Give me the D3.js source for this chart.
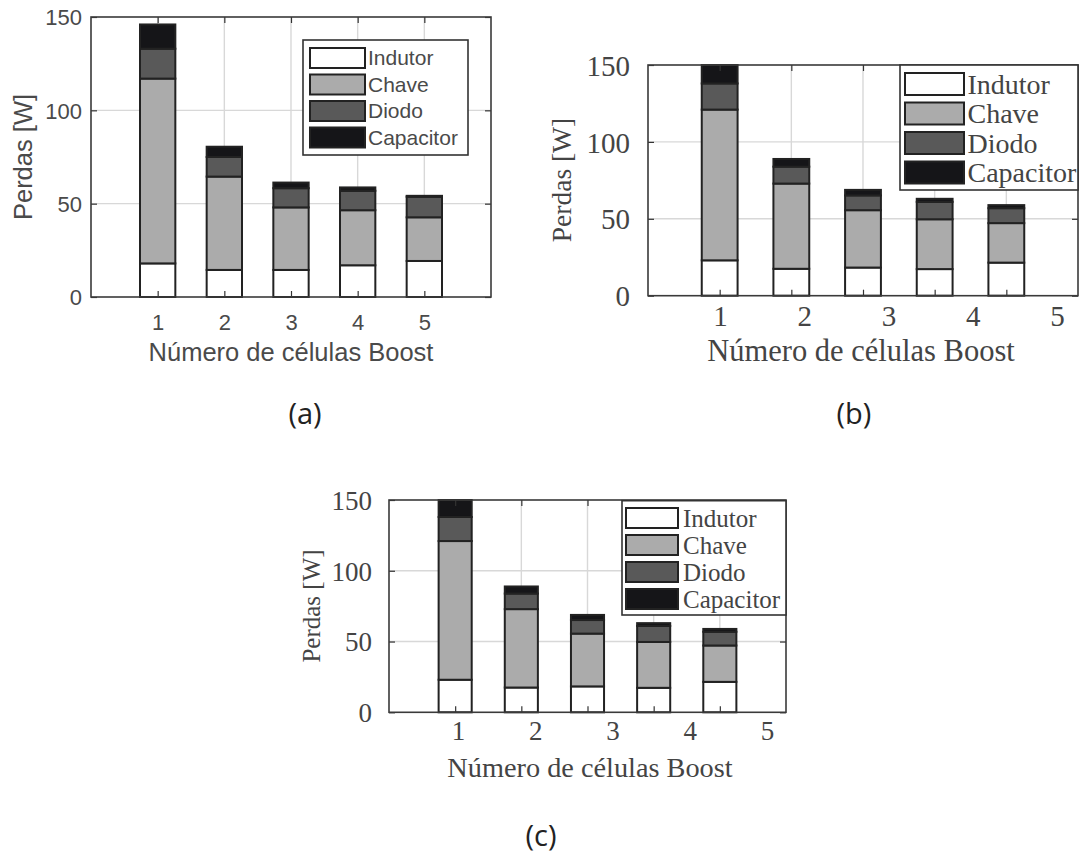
<!DOCTYPE html>
<html>
<head>
<meta charset="utf-8">
<script src="https://cdn.jsdelivr.net/npm/d3@7"></script>
<style>
  html, body { margin: 0; padding: 0; background: #ffffff; }
  svg { display: block; }
</style>
</head>
<body>
<svg id="chart" width="1083" height="865"></svg>
<script>
// ---------------- DATA ----------------
const categories = [1, 2, 3, 4, 5];
const seriesNames = ["Indutor", "Chave", "Diodo", "Capacitor"];
const yTicks = [0, 50, 100, 150];
const xTickLabels = ["1", "2", "3", "4", "5"];
const yAxisTitle = "Perdas [W]";
const xAxisTitle = "Número de células Boost";
const captions = ["(a)", "(b)", "(c)"];

// panel (a)
const indutorA   = [18, 14.5, 14.5, 17, 19.3];
const chaveA     = [99, 50, 33.5, 29.5, 23.4];
const diodoA     = [16, 10.5, 10.3, 10.4, 11];
const capacitorA = [13, 5.5, 3, 1.8, 0.5];

// panels (b) and (c) (same figure)
const indutorBC   = [23, 17.5, 18.3, 17.3, 21.5];
const chaveBC     = [98, 55.4, 37.3, 32.4, 25.7];
const diodoBC     = [17, 11, 9.6, 11.3, 9.7];
const capacitorBC = [12, 5, 3.6, 2, 2];

// ---------------- STYLE ----------------
const fills = { Indutor: "#ffffff", Chave: "#ababab", Diodo: "#595959", Capacitor: "#151518" };

const svg = d3.select("#chart");
svg.append("rect").attr("width", 1083).attr("height", 865).attr("fill", "#fff");

function drawPanel(cfg) {
  const g = svg.append("g");
  const x = d3.scaleLinear().domain([0, 6]).range([cfg.left, cfg.right]);
  const y = d3.scaleLinear().domain([0, 150]).range([cfg.bottom, cfg.top]);
  const xl = d3.scaleLinear().domain([1, 5]).range(cfg.labelRange);

  // grid
  g.append("g").selectAll("line").data(yTicks.slice(1, -1)).join("line")
    .attr("x1", cfg.left).attr("x2", cfg.right)
    .attr("y1", d => y(d)).attr("y2", d => y(d))
    .attr("stroke", "#d8d8d8").attr("stroke-width", 1.4);
  g.append("g").selectAll("line").data(categories).join("line")
    .attr("x1", d => x(d)).attr("x2", d => x(d))
    .attr("y1", cfg.top).attr("y2", cfg.bottom)
    .attr("stroke", "#d8d8d8").attr("stroke-width", 1.4);

  // stacked bars
  const table = categories.map((c, i) => {
    const row = { cat: c };
    seriesNames.forEach((s, k) => row[s] = cfg.values[k][i]);
    return row;
  });
  const stacked = d3.stack().keys(seriesNames)(table);
  const bw = cfg.barWidth;
  g.append("g").selectAll("g").data(stacked).join("g")
    .attr("fill", d => fills[d.key])
    .selectAll("rect").data(d => d).join("rect")
    .attr("x", d => x(d.data.cat - bw / 2))
    .attr("width", x(bw) - x(0))
    .attr("y", d => y(Math.min(d[1], 150)))
    .attr("height", d => y(d[0]) - y(Math.min(d[1], 150)))
    .attr("stroke", "#222").attr("stroke-width", 2);

  // inward tick marks on all sides
  const tickStyle = sel => {
    sel.select(".domain").remove();
    sel.selectAll(".tick line").attr("stroke", "#333").attr("stroke-width", 1.2);
  };
  g.append("g").attr("transform", `translate(0,${cfg.bottom})`)
    .call(d3.axisBottom(x).tickValues(categories).tickSizeInner(-6).tickSizeOuter(0).tickFormat(""))
    .call(tickStyle);
  g.append("g").attr("transform", `translate(0,${cfg.top})`)
    .call(d3.axisTop(x).tickValues(categories).tickSizeInner(-6).tickSizeOuter(0).tickFormat(""))
    .call(tickStyle);
  g.append("g").attr("transform", `translate(${cfg.right},0)`)
    .call(d3.axisRight(y).tickValues(yTicks).tickSizeInner(-6).tickSizeOuter(0).tickFormat(""))
    .call(tickStyle);

  // y axis with labels
  const ya = g.append("g").attr("transform", `translate(${cfg.left},0)`)
    .call(d3.axisLeft(y).tickValues(yTicks).tickSizeInner(-6).tickSizeOuter(0).tickPadding(cfg.yPad));
  tickStyle(ya);
  ya.selectAll(".tick text").attr("font-family", cfg.font).attr("font-size", cfg.tickSize)
    .attr("fill", cfg.textColor).attr("dy", "0.35em");

  // x tick labels (positioned by their own scale, as in the picture)
  const xa = g.append("g").attr("transform", `translate(0,${cfg.bottom})`)
    .call(d3.axisBottom(xl).tickValues(categories).tickSize(0).tickFormat((d, i) => xTickLabels[i]));
  xa.select(".domain").remove();
  xa.selectAll(".tick text").attr("font-family", cfg.font).attr("font-size", cfg.tickSize)
    .attr("fill", cfg.textColor).attr("dy", null).attr("y", cfg.xLabelBase);

  // frame
  g.append("rect").attr("x", cfg.left).attr("y", cfg.top)
    .attr("width", cfg.right - cfg.left).attr("height", cfg.bottom - cfg.top)
    .attr("fill", "none").attr("stroke", "#3a3a3a").attr("stroke-width", 1.6);

  // axis titles
  g.append("text").attr("x", cfg.xTitle[0]).attr("y", cfg.xTitle[1])
    .attr("text-anchor", "middle").attr("font-family", cfg.font)
    .attr("font-size", cfg.xTitleSize).attr("fill", cfg.textColor).text(xAxisTitle);
  g.append("text").attr("transform", `translate(${cfg.yTitle[0]},${cfg.yTitle[1]}) rotate(-90)`)
    .attr("text-anchor", "middle").attr("dy", "0.35em").attr("font-family", cfg.font)
    .attr("font-size", cfg.yTitleSize).attr("fill", cfg.textColor).text(yAxisTitle);

  // legend
  const L = cfg.legend;
  g.append("rect").attr("x", L.x0).attr("y", L.y0).attr("width", L.x1 - L.x0).attr("height", L.y1 - L.y0)
    .attr("fill", "#fff").attr("stroke", "#333").attr("stroke-width", 1.6);
  const items = g.append("g").selectAll("g").data(seriesNames).join("g")
    .attr("transform", (d, i) => `translate(0,${L.row0 + i * L.step})`);
  items.append("rect").attr("x", L.sx0).attr("y", -L.sh / 2)
    .attr("width", L.sx1 - L.sx0).attr("height", L.sh)
    .attr("fill", d => fills[d]).attr("stroke", "#222").attr("stroke-width", 2);
  items.append("text").attr("x", L.tx).attr("dy", "0.35em")
    .attr("font-family", cfg.font).attr("font-size", L.size).attr("fill", cfg.textColor)
    .text(d => d);

  // caption
  svg.append("text").attr("x", cfg.caption[0]).attr("y", cfg.caption[1])
    .attr("text-anchor", "middle").attr("font-family", "'Open Sans', 'Noto Sans', sans-serif")
    .attr("font-size", 29).attr("fill", "#222").text(cfg.captionText);
}

const sans = "'Liberation Sans', Arial, sans-serif";
const serif = "'Liberation Serif', 'Times New Roman', serif";

drawPanel({
  values: [indutorA, chaveA, diodoA, capacitorA],
  left: 91, right: 491, top: 17, bottom: 297, barWidth: 0.53,
  labelRange: [157.7, 424.3],
  font: sans, textColor: "#4a4a4a", tickSize: 22, yPad: 9, xLabelBase: 33,
  xTitle: [291, 361], xTitleSize: 25.5, yTitle: [23, 157], yTitleSize: 25.5,
  legend: { x0: 303, x1: 468, y0: 40, y1: 155, sx0: 310, sx1: 365, sh: 20, row0: 58, step: 26.5, tx: 368, size: 21 },
  caption: [305, 424], captionText: captions[0]
});

drawPanel({
  values: [indutorBC, chaveBC, diodoBC, capacitorBC],
  left: 648, right: 1078, top: 65, bottom: 295.7, barWidth: 0.5,
  labelRange: [720, 1057],
  font: serif, textColor: "#444", tickSize: 29, yPad: 18, xLabelBase: 30.5,
  xTitle: [861, 361], xTitleSize: 30.5, yTitle: [561, 180], yTitleSize: 27.5,
  legend: { x0: 900, x1: 1078, y0: 65, y1: 190, sx0: 905, sx1: 964, sh: 22, row0: 84, step: 29.5, tx: 967.5, size: 28 },
  caption: [854, 424], captionText: captions[1]
});

drawPanel({
  values: [indutorBC, chaveBC, diodoBC, capacitorBC],
  left: 389, right: 786, top: 500, bottom: 712.3, barWidth: 0.5,
  labelRange: [458, 767],
  font: serif, textColor: "#444", tickSize: 27, yPad: 17, xLabelBase: 28,
  xTitle: [590, 777], xTitleSize: 28.3, yTitle: [311, 606], yTitleSize: 25,
  legend: { x0: 622, x1: 786, y0: 500.7, y1: 615, sx0: 626, sx1: 678, sh: 20, row0: 518, step: 27, tx: 683, size: 25 },
  caption: [541, 846], captionText: captions[2]
});
</script>
</body>
</html>
